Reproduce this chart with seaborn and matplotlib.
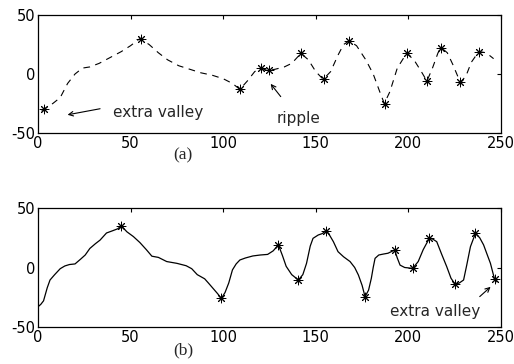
import matplotlib
matplotlib.use("Agg")
import matplotlib.pyplot as plt
import seaborn as sns

# top panel (a): dashed curve and detected extrema
a_x = [2, 3, 8, 12, 16, 20, 24, 28, 33, 39, 45, 50, 55, 60, 65, 70, 76, 82, 88, 94, 100, 105, 109,
       113, 117, 120, 122, 124, 128, 133, 137, 142, 146, 150, 154, 158, 162, 165, 168, 172, 177,
       181, 185, 187, 190, 194, 199, 203, 207, 210, 213, 216, 218, 221, 224, 228, 231, 234, 238,
       242, 246]
a_y = [-31, -30, -25, -20, -8, 0, 5, 6, 9, 14, 19, 24, 30, 25, 18, 12, 7, 4, 1, -1, -4, -8, -13,
       -6, 2, 5, 4, 3, 4, 6, 9, 17.5, 12, 2, -4.5, 2, 16, 25, 28, 24, 12,
       0, -17, -25, -15, 5, 17.5, 12, 2, -6, 5, 18, 22, 18, 8, -7, -2, 10, 19,
       18, 13]
a_star_x = [3, 55.5, 109, 120.5, 124.5, 142, 154.5, 168, 187.5, 199, 210, 217.5, 228, 238]
a_star_y = [-30, 30, -13, 5, 3, 17.5, -4.5, 28, -25, 17.5, -6, 22, -7, 19]

# bottom panel (b): solid curve and detected extrema
b_x = [0, 1.5, 3, 5, 6.5, 9, 12, 14.5, 17, 20, 23, 25.5, 28, 31, 33.5, 37, 40.5, 43, 45, 48, 51.5,
       55, 58.5, 61.5, 65, 69.5, 75, 80, 83, 86, 90, 92, 94.5, 97, 99, 101, 103, 105, 107, 109,
       112, 116, 120, 124, 127, 129.8, 132, 134, 137, 140.6, 143, 145, 147, 148.5, 151.3, 153.5,
       155.6, 157.5, 159.5, 162, 165, 168.5, 171, 173, 175, 176.6, 178.5, 180, 181, 182, 184,
       186.5, 189, 192.6, 194, 195.5, 198, 202.3, 205.3, 208, 211.3, 213, 215.3, 218, 220.7,
       223, 225.2, 227.5, 229.8, 231.5, 233.5, 236.2, 238.5, 240.6, 242.5, 244.3, 246.5, 247.5]
b_y = [-33, -31, -28, -17, -10.5, -6, -1, 1.3, 2.5, 3, 7, 10.5, 16, 20, 23, 29, 31, 32.5, 35, 30, 26,
       21, 15, 9.5, 8.5, 5, 3.5, 1.5, -1, -6, -9.5, -13, -17.5, -22, -26, -21, -13, -2, 3, 6.3,
       8, 9.7, 10.5, 11, 14, 19, 10, 1, -6, -10.5, -6, 3.5, 18, 24.5, 27.3, 28.5,
       31, 27, 21.7, 13.3, 9, 5, 0, -6.3, -15, -24.5, -19, -9, 0, 7.7, 10.5,
       11.3, 12, 14.7, 8, 2, 0, -0.7, 5, 15, 24.5, 24, 21.7, 11, 0.7,
       -9, -14, -13, -10.5, 2, 17.5, 28.7, 25, 19, 11, 3.5, -9.7, -12]
b_star_x = [45, 99, 129.8, 140.6, 155.6, 176.6, 192.6, 202.3, 211.3, 225.2, 236.2, 246.5]
b_star_y = [35, -26, 19, -10.5, 31, -24.5, 14.7, -0.7, 24.5, -14, 28.7, -9.7]

x_ticks = [0, 50, 100, 150, 200, 250]
y_ticks = [-50, 0, 50]

sns.set_style("white")
plt.rcParams["font.family"] = ["DejaVu Sans"]
plt.rcParams["axes.unicode_minus"] = False
plt.rcParams["xtick.direction"] = "in"
plt.rcParams["ytick.direction"] = "in"

fig = plt.figure(figsize=(5.14, 3.64), dpi=100)
ax1 = fig.add_axes([0.0739, 0.6346, 0.9008, 0.3242])
ax2 = fig.add_axes([0.0739, 0.1016, 0.9008, 0.327])

star = (8, 2, 0)

sns.lineplot(x=a_x, y=a_y, ax=ax1, color="k", linewidth=0.8, sort=False)
ax1.lines[0].set_linestyle((0, (6, 5)))
sns.scatterplot(x=a_star_x, y=a_star_y, ax=ax1, marker=star, color="k", s=40, linewidth=0.7, zorder=3)

sns.lineplot(x=b_x, y=b_y, ax=ax2, color="k", linewidth=0.9, sort=False)
sns.scatterplot(x=b_star_x, y=b_star_y, ax=ax2, marker=star, color="k", s=40, linewidth=0.7, zorder=3)

for ax in (ax1, ax2):
    ax.set_xlim(0, 250)
    ax.set_ylim(-50, 50)
    ax.set_xticks(x_ticks)
    ax.set_yticks(y_ticks)
    ax.tick_params(top=True, right=True, length=3, width=0.8, labelsize=10.5, pad=2, colors="k")
    for s in ax.spines.values():
        s.set_color("k")
        s.set_linewidth(0.9)

arrow = dict(arrowstyle="->", color="k", lw=0.8, mutation_scale=8)
ax1.annotate("", xy=(14.5, -35), xytext=(35, -29), arrowprops=arrow)
ax1.text(40.5, -33, "extra valley", fontsize=11, va="center", ha="left")
ax1.annotate("", xy=(124.7, -6.5), xytext=(132, -21), arrowprops=arrow)
ax1.text(129, -37.5, "ripple", fontsize=11, va="center", ha="left")

ax2.annotate("", xy=(245.5, -14.7), xytext=(237.4, -26), arrowprops=arrow)
ax2.text(190, -37, "extra valley", fontsize=11, va="center", ha="left")

fig.text(0.356, 0.572, "(a)", fontsize=12.5, family="Liberation Serif", ha="center", va="center")
fig.text(0.356, 0.038, "(b)", fontsize=12.5, family="Liberation Serif", ha="center", va="center")

fig.savefig("out.png", dpi=100)
